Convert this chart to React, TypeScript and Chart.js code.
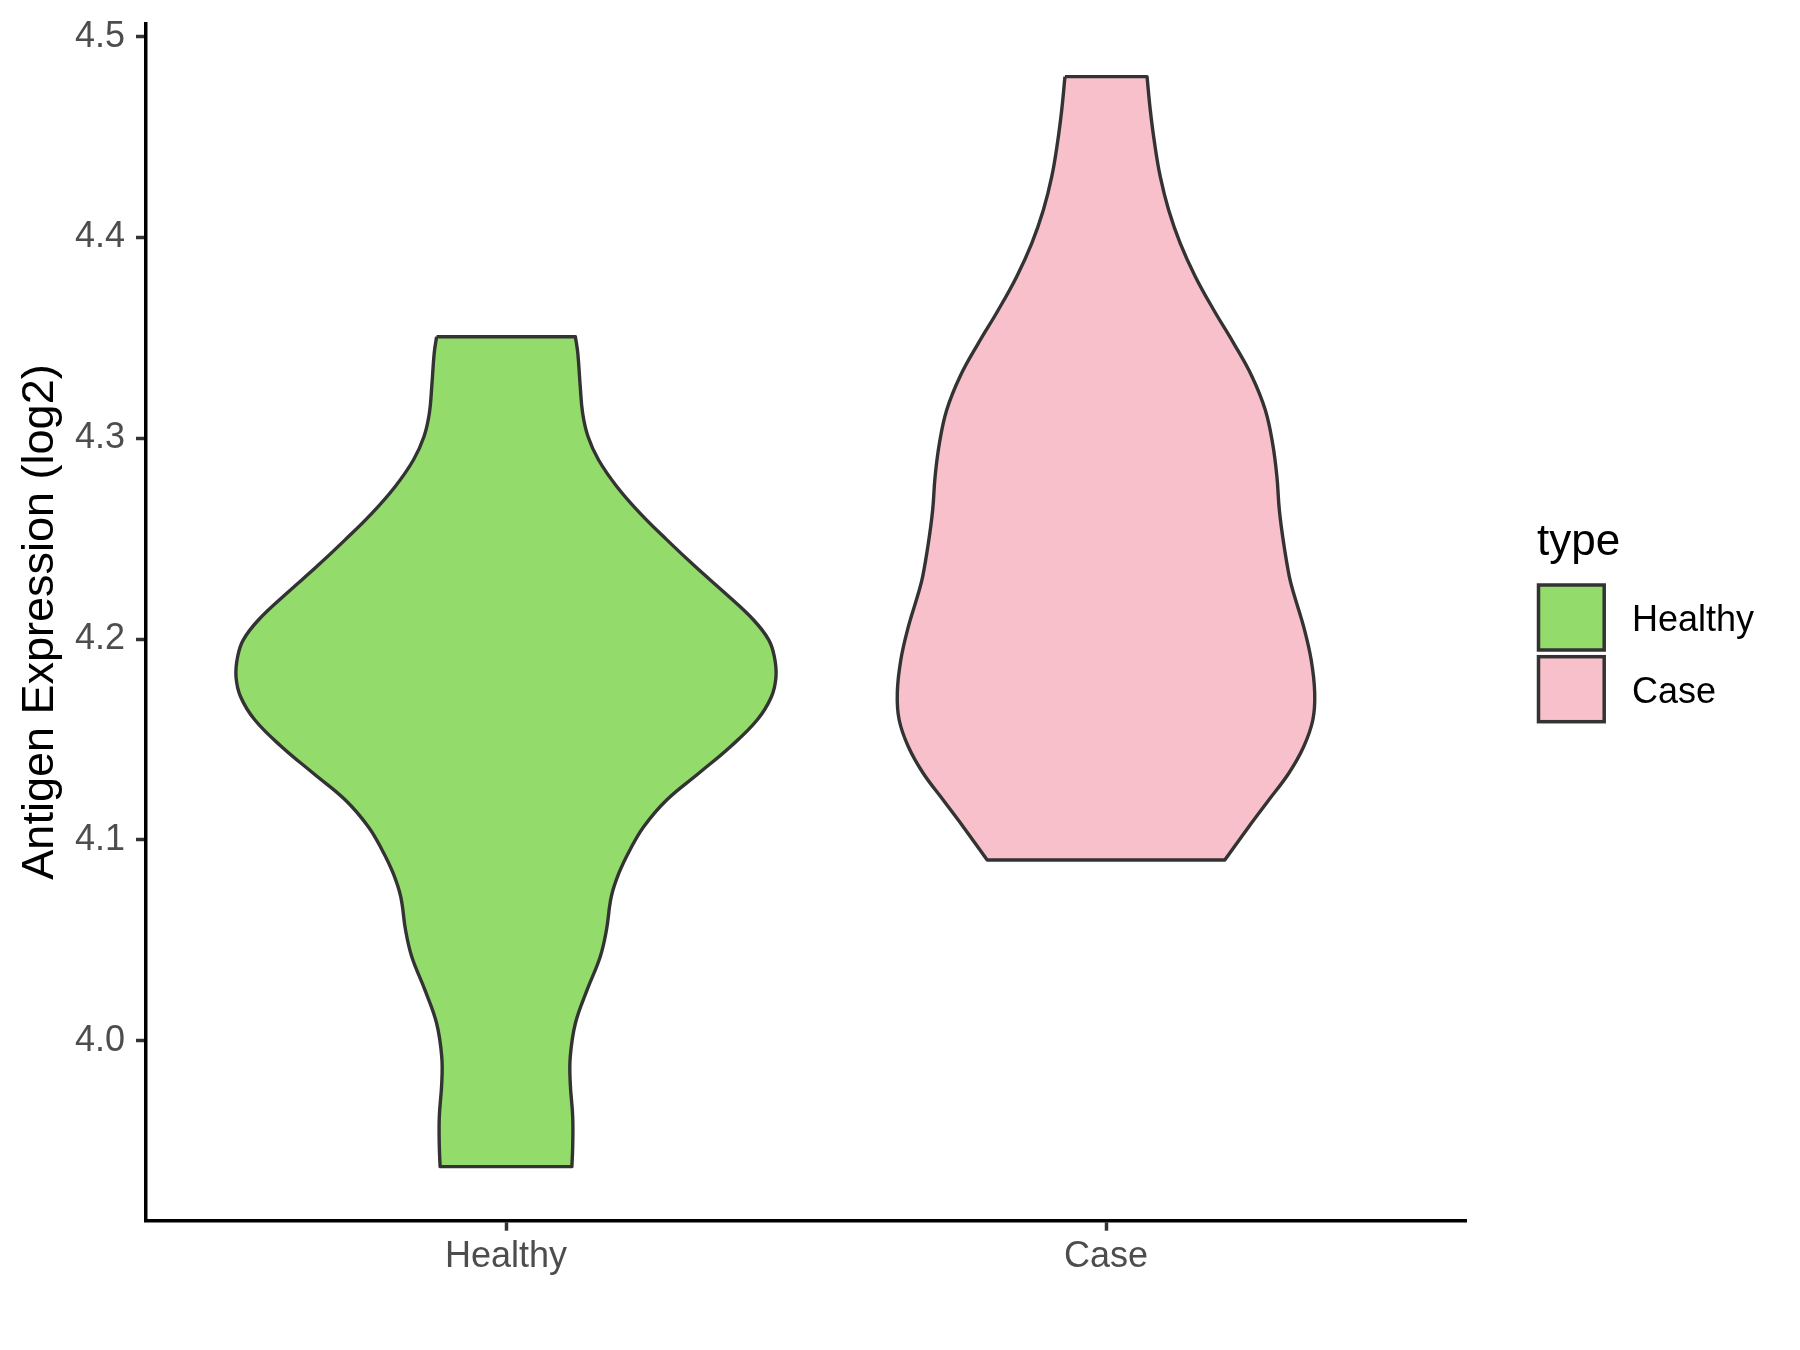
import React, { useEffect, useRef } from "react";
import { Chart, registerables } from "chart.js";

Chart.register(...registerables);

// ---- data ----
const categories = ["Healthy", "Case"];
const yTickValues = [4.0, 4.1, 4.2, 4.3, 4.4, 4.5];
const legendTitle = "type";
const yAxisTitle = "Antigen Expression (log2)";

// Healthy violin: expression values (top to bottom) and scaled density (1 = widest violin)
const healthyValues = [
  4.3506, 4.3423, 4.3257, 4.3124, 4.3008, 4.2892, 4.2759, 4.2626, 4.2494, 4.2361, 4.2228,
  4.2095, 4.1996, 4.1912, 4.1813, 4.1713, 4.1597, 4.1464, 4.1332, 4.1199, 4.1066, 4.095,
  4.0834, 4.0717, 4.0551, 4.0418, 4.0252, 4.0087, 3.992, 3.9788, 3.9622, 3.9472, 3.9373,
];
const healthyDensity = [
  0.257, 0.266, 0.275, 0.284, 0.304, 0.343, 0.411, 0.497, 0.596, 0.701, 0.812, 0.917,
  0.973, 0.994, 1.0, 0.983, 0.93, 0.831, 0.714, 0.595, 0.51, 0.459, 0.418, 0.39, 0.372,
  0.349, 0.3, 0.257, 0.238, 0.238, 0.247, 0.247, 0.244,
];

// Case violin
const caseValues = [
  4.4801, 4.4635, 4.4469, 4.4303, 4.4137, 4.3971, 4.3805, 4.3639, 4.3473, 4.3307, 4.3141,
  4.2975, 4.2809, 4.2643, 4.2477, 4.2311, 4.2228, 4.2062, 4.1896, 4.173, 4.1597, 4.1464,
  4.1332, 4.1199, 4.1066, 4.09,
];
const caseDensity = [
  0.152, 0.164, 0.18, 0.201, 0.232, 0.275, 0.331, 0.399, 0.473, 0.541, 0.59, 0.617, 0.633,
  0.642, 0.658, 0.679, 0.695, 0.732, 0.76, 0.773, 0.766, 0.732, 0.677, 0.603, 0.529, 0.44,
];

const fillColors = ["#93DB6B", "#F7C0CB"];
const outlineColor = "#333333";
const VIOLIN_HALF_WIDTH = 0.45;

// Closed outline: left side downwards, right side upwards; corners doubled to keep them sharp
function violinPath(center: number, values: number[], density: number[]) {
  const left = values.map((v, i) => ({ x: center - density[i] * VIOLIN_HALF_WIDTH, y: v }));
  const right = values
    .map((v, i) => ({ x: center + density[i] * VIOLIN_HALF_WIDTH, y: v }))
    .reverse();
  const n = left.length;
  return [
    left[0],
    ...left,
    left[n - 1],
    right[0],
    ...right,
    right[n - 1],
    left[0],
    left[0],
  ];
}

const FONT = '"Liberation Sans", Arial, Helvetica, sans-serif';

const legendPlugin = {
  id: "ggLegend",
  afterDraw(chart: any) {
    const ctx = chart.ctx as CanvasRenderingContext2D;
    ctx.save();
    ctx.fillStyle = "#000000";
    ctx.textAlign = "left";
    ctx.textBaseline = "alphabetic";
    ctx.font = `44px ${FONT}`;
    ctx.fillText(legendTitle, 1537, 555);
    categories.forEach((c, i) => {
      const top = 585 + i * 71.7;
      ctx.fillStyle = fillColors[i];
      ctx.fillRect(1538.5, top, 65.7, 65);
      ctx.strokeStyle = outlineColor;
      ctx.lineWidth = 3.5;
      ctx.strokeRect(1538.5, top, 65.7, 65);
      ctx.fillStyle = "#000000";
      ctx.font = `36px ${FONT}`;
      ctx.fillText(c, 1632, top + 46);
    });
    ctx.restore();
  },
};

export default function App() {
  const canvasRef = useRef<HTMLCanvasElement | null>(null);

  useEffect(() => {
    const canvas = canvasRef.current;
    if (!canvas) return;
    const datasets = [
      { values: healthyValues, density: healthyDensity },
      { values: caseValues, density: caseDensity },
    ].map((d, i) => ({
      label: categories[i],
      data: violinPath(i + 1, d.values, d.density),
      showLine: true,
      fill: "shape" as any,
      backgroundColor: fillColors[i],
      borderColor: outlineColor,
      borderWidth: 3.4,
      pointRadius: 0,
      pointHoverRadius: 0,
      tension: 0.4,
      borderJoinStyle: "round" as const,
    }));

    const chart = new Chart(canvas, {
      type: "scatter",
      data: { datasets },
      options: {
        responsive: false,
        animation: false,
        events: [],
        layout: { padding: { top: 23.3, right: 334, bottom: 0, left: 0 } },
        plugins: {
          legend: { display: false },
          tooltip: { enabled: false },
        },
        scales: {
          x: {
            type: "linear",
            min: 0.4,
            max: 2.6,
            afterBuildTicks: (scale: any) => {
              scale.ticks = categories.map((_, i) => ({ value: i + 1 }));
            },
            afterFit: (scale: any) => {
              scale.height = 129.3;
              scale.paddingLeft = 0;
              scale.paddingRight = 0;
            },
            ticks: {
              callback: (value: any) => categories[Math.round(Number(value)) - 1],
              color: "#4D4D4D",
              font: { family: FONT, size: 36 },
              padding: 5,
              maxRotation: 0,
              autoSkip: false,
            },
            grid: {
              display: true,
              drawOnChartArea: false,
              drawTicks: true,
              tickLength: 10,
              tickColor: "#333333",
              tickWidth: 3.5,
            },
            border: { display: true, color: "#000000", width: 3.5 },
          },
          y: {
            type: "linear",
            min: 3.91036,
            max: 4.50667,
            afterBuildTicks: (scale: any) => {
              scale.ticks = yTickValues.map((v) => ({ value: v }));
            },
            afterFit: (scale: any) => {
              scale.width = 146;
              scale.paddingTop = 0;
              scale.paddingBottom = 0;
            },
            ticks: {
              callback: (value: any) => Number(value).toFixed(1),
              color: "#4D4D4D",
              font: { family: FONT, size: 36 },
              padding: 11,
            },
            grid: {
              display: true,
              drawOnChartArea: false,
              drawTicks: true,
              tickLength: 10,
              tickColor: "#333333",
              tickWidth: 3.5,
            },
            border: { display: true, color: "#000000", width: 3.5 },
            title: {
              display: true,
              text: yAxisTitle,
              color: "#000000",
              font: { family: FONT, size: 45 },
              padding: { top: 13.5, bottom: 0 },
            },
          },
        },
      },
      plugins: [legendPlugin],
    });
    return () => chart.destroy();
  }, []);

  return (
    <div style={{ position: "absolute", left: 0, top: 0, width: 1800, height: 1350, background: "#ffffff" }}>
      <canvas ref={canvasRef} width={1800} height={1350} style={{ display: "block" }} />
    </div>
  );
}
